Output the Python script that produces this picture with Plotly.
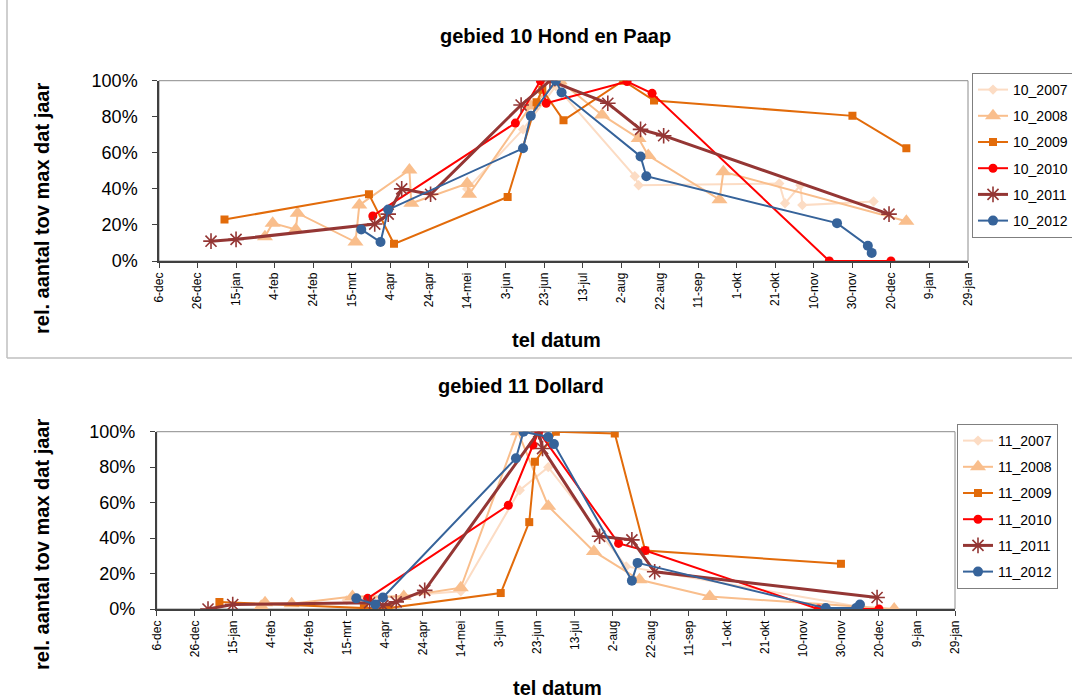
import pandas as pd
import plotly.graph_objects as go

# ---- axis labels -------------------------------------------------------
tick_labels = ["6-dec", "26-dec", "15-jan", "4-feb", "24-feb", "15-mrt", "4-apr",
               "24-apr", "14-mei", "3-jun", "23-jun", "13-jul", "2-aug", "22-aug",
               "11-sep", "1-okt", "21-okt", "10-nov", "30-nov", "20-dec", "9-jan",
               "29-jan"]
pct_vals = [0, 20, 40, 60, 80, 100]
pct_labels = ["0%", "20%", "40%", "60%", "80%", "100%"]
series_names = ["2007", "2008", "2009", "2010", "2011", "2012"]

# ---- gebied 10 Hond en Paap (percent of that year's maximum) ----------
h10_2007_dates = ["2008-05-14", "2008-06-12", "2008-06-29", "2008-08-09", "2008-08-11",
                  "2008-10-23", "2008-10-26", "2008-11-03", "2008-11-04", "2008-12-11"]
h10_2007_vals = [40, 73, 97, 47, 42, 43, 32, 42, 31, 33]

h10_2008_dates = ["2008-01-30", "2008-02-03", "2008-02-15", "2008-02-16", "2008-03-17",
                  "2008-03-19", "2008-04-14", "2008-04-15", "2008-05-14", "2008-05-15",
                  "2008-06-16", "2008-07-01", "2008-07-23", "2008-08-11", "2008-08-16",
                  "2008-09-22", "2008-09-24", "2008-12-28"]
h10_2008_vals = [13.5, 21, 17.5, 26.5, 10.5, 31, 50.5, 32, 43, 37,
                 86, 100, 81, 68, 58.5, 34, 49.5, 22]

h10_2009_dates = ["2008-01-09", "2008-03-24", "2008-04-06", "2008-06-04", "2008-06-19",
                  "2008-06-22", "2008-07-03", "2008-08-03", "2008-08-19", "2008-11-30",
                  "2008-12-28"]
h10_2009_vals = [23, 37, 9.5, 35.5, 88, 95, 78, 100, 89, 80.5, 62.5]

h10_2010_dates = ["2008-03-26", "2008-06-08", "2008-06-21", "2008-06-24", "2008-08-05",
                  "2008-08-18", "2008-11-18", "2008-12-20"]
h10_2010_vals = [25, 76.5, 100, 87.5, 99.5, 93, 0, 0]

h10_2011_dates = ["2008-01-02", "2008-01-15", "2008-03-27", "2008-04-03", "2008-04-10",
                  "2008-04-25", "2008-06-11", "2008-06-26", "2008-07-26", "2008-08-12",
                  "2008-08-24", "2008-12-19"]
h10_2011_vals = [11, 12, 20.5, 26, 40, 37, 86.5, 100, 87.5, 73, 69.5, 26]

h10_2012_dates = ["2008-03-20", "2008-03-30", "2008-04-03", "2008-06-12", "2008-06-16",
                  "2008-06-29", "2008-07-02", "2008-08-12", "2008-08-15", "2008-11-22",
                  "2008-12-08", "2008-12-10"]
h10_2012_vals = [17.5, 10.5, 28.5, 62.5, 80.5, 100, 93.5, 58, 47, 21, 8.5, 4.5]

# ---- gebied 11 Dollard -------------------------------------------------
d11_2007_dates = ["2008-03-15", "2008-05-14", "2008-06-14", "2008-06-29", "2008-08-09",
                  "2008-12-11"]
d11_2007_vals = [5, 10, 67, 80, 24, 1]

d11_2008_dates = ["2008-01-30", "2008-02-01", "2008-02-15", "2008-03-18", "2008-04-14",
                  "2008-05-14", "2008-06-13", "2008-06-29", "2008-07-23", "2008-08-16",
                  "2008-09-22", "2008-12-28"]
d11_2008_vals = [1.5, 3.5, 3, 7, 7, 12, 100, 58, 32.5, 16.5, 7, 0]

d11_2009_dates = ["2008-01-08", "2008-03-24", "2008-04-06", "2008-06-04", "2008-06-19",
                  "2008-06-22", "2008-07-03", "2008-08-03", "2008-08-19", "2008-11-30"]
d11_2009_vals = [4, 0.5, 0.5, 9, 49, 83, 100, 99, 33, 25.5]

d11_2010_dates = ["2008-03-26", "2008-06-08", "2008-06-21", "2008-06-24", "2008-08-05",
                  "2008-08-19", "2008-11-18", "2008-12-20"]
d11_2010_vals = [6, 58.5, 92.5, 100, 37, 33, 0, 0]

d11_2011_dates = ["2008-01-02", "2008-01-15", "2008-03-27", "2008-04-03", "2008-04-10",
                  "2008-04-25", "2008-06-24", "2008-06-26", "2008-07-26", "2008-08-12",
                  "2008-08-24", "2008-12-19"]
d11_2011_vals = [0, 2.5, 3.5, 2, 4, 10.5, 100, 90.5, 41, 39, 21, 6.5]

d11_2012_dates = ["2008-03-20", "2008-03-30", "2008-04-03", "2008-06-12", "2008-06-16",
                  "2008-06-29", "2008-07-02", "2008-08-12", "2008-08-15", "2008-11-22",
                  "2008-12-08", "2008-12-10"]
d11_2012_vals = [6, 2.5, 6.5, 85, 100, 97, 93, 16, 26, 0.5, 0.5, 2.5]

# ---- styling per year ----------------------------------------------------
colors = ["#FCDCC4", "#F9BE8C", "#E26B0A", "#FF0000", "#943634", "#36639A"]
symbols = ["diamond", "triangle-up", "square", "circle", "asterisk-open", "circle"]
msizes = [8, 14, 8, 9, 13, 10]
lwidths = [2, 2, 2, 2, 3, 2]

FONT = "Liberation Sans, Arial, sans-serif"
W, H = 1072, 700

h10 = [(h10_2007_dates, h10_2007_vals), (h10_2008_dates, h10_2008_vals),
       (h10_2009_dates, h10_2009_vals), (h10_2010_dates, h10_2010_vals),
       (h10_2011_dates, h10_2011_vals), (h10_2012_dates, h10_2012_vals)]
d11 = [(d11_2007_dates, d11_2007_vals), (d11_2008_dates, d11_2008_vals),
       (d11_2009_dates, d11_2009_vals), (d11_2010_dates, d11_2010_vals),
       (d11_2011_dates, d11_2011_vals), (d11_2012_dates, d11_2012_vals)]

fig = go.Figure()


def add_area(data, prefix, xa, ya, legend):
    for i, (dates, vals) in enumerate(data):
        sym = symbols[i]
        marker = dict(symbol=sym, size=msizes[i], color=colors[i],
                      line=dict(width=1.6 if sym == "asterisk-open" else 0, color=colors[i]))
        fig.add_trace(go.Scatter(
            x=pd.to_datetime(dates), y=vals, name=f"{prefix}_{series_names[i]}",
            mode="lines+markers", xaxis=xa, yaxis=ya, legend=legend,
            legendgroup=f"{prefix}_{i}",
            line=dict(color=colors[i], width=lwidths[i]), marker=marker))


add_area(h10, "10", "x", "y", "legend")
add_area(d11, "11", "x2", "y2", "legend2")


def px(x):
    return x / W


def py(y):
    return 1 - y / H


tickvals = pd.date_range("2007-12-06", periods=len(tick_labels), freq="20D")
xcommon = dict(type="date", range=["2007-12-06", "2009-01-29"], tickvals=tickvals,
               ticktext=tick_labels, tickangle=-90, ticks="outside", ticklen=5,
               tickcolor="#404040", showline=True, linecolor="#404040", linewidth=1.5,
               showgrid=False, zeroline=False,
               tickfont=dict(family=FONT, size=12, color="#000"))
ycommon = dict(range=[0, 100], tickvals=pct_vals, ticktext=pct_labels,
               ticks="outside", ticklen=5, tickcolor="#404040", showline=True,
               linecolor="#404040", linewidth=1.5, showgrid=False, zeroline=False,
               ticklabelstandoff=11,
               tickfont=dict(family=FONT, size=18, color="#000"))

legend_common = dict(xanchor="left", yanchor="top", bordercolor="#7f7f7f", borderwidth=1,
                     bgcolor="white", font=dict(family=FONT, size=14, color="#000"),
                     tracegroupgap=5, itemwidth=30)

fig.update_layout(
    width=W, height=H, margin=dict(l=0, r=0, t=0, b=0, autoexpand=False),
    paper_bgcolor="white", plot_bgcolor="white", showlegend=True,
    xaxis=dict(domain=[px(159), px(968)], anchor="y", **xcommon),
    yaxis=dict(domain=[py(261), py(80.7)], anchor="x", **ycommon),
    xaxis2=dict(domain=[px(156.7), px(955)], anchor="y2", **xcommon),
    yaxis2=dict(domain=[py(609), py(431.7)], anchor="x2", **ycommon),
    legend=dict(x=px(972), y=py(73), **legend_common),
    legend2=dict(x=px(957), y=py(424), **legend_common),
)

# thin grey frame around each plot area
for xr, yr in (("x domain", "y domain"), ("x2 domain", "y2 domain")):
    fig.add_shape(type="rect", xref=xr, yref=yr, x0=0, x1=1, y0=0, y1=1,
                  line=dict(color="#8c8c8c", width=1), layer="below")

# outline of the upper chart block
fig.add_shape(type="line", xref="paper", yref="paper", x0=px(7), x1=px(7), y0=py(0), y1=py(358),
              line=dict(color="#bfbfbf", width=1.5))
fig.add_shape(type="line", xref="paper", yref="paper", x0=px(7), x1=1, y0=py(358), y1=py(358),
              line=dict(color="#bfbfbf", width=1.5))

bold = dict(family=FONT, size=20, color="#000")
texts = [
    ("<b>gebied 10 Hond en Paap</b>", 555, 36, 0),
    ("<b>gebied 11 Dollard</b>", 521, 386, 0),
    ("<b>tel datum</b>", 556, 340, 0),
    ("<b>tel datum</b>", 557, 688, 0),
    ("<b>rel. aantal tov max dat jaar</b>", 42, 209, -90),
    ("<b>rel. aantal tov max dat jaar</b>", 42, 545, -90),
]
for t, x, y, ang in texts:
    fig.add_annotation(text=t, x=px(x), y=py(y), xref="paper", yref="paper",
                       showarrow=False, textangle=ang, font=bold,
                       xanchor="center", yanchor="middle")

fig.write_html("out.html")
